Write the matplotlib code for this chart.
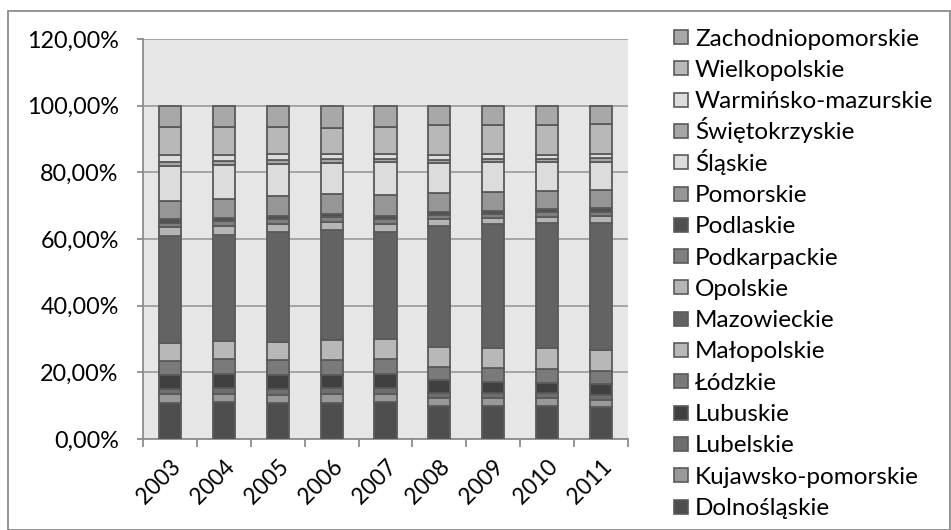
import numpy as np
import matplotlib
matplotlib.use("Agg")
import matplotlib.pyplot as plt
from matplotlib.patches import Rectangle

plt.rcParams['font.family'] = ['Lato', 'DejaVu Sans']

years = ["2003", "2004", "2005", "2006", "2007", "2008", "2009", "2010", "2011"]

# udział procentowy, od dołu słupka
regions = ["Dolnośląskie", "Kujawsko-pomorskie", "Lubelskie", "Lubuskie", "Łódzkie",
           "Małopolskie", "Mazowieckie", "Opolskie", "Podkarpackie", "Podlaskie",
           "Pomorskie", "Śląskie", "Świętokrzyskie", "Warmińsko-mazurskie",
           "Wielkopolskie", "Zachodniopomorskie"]

dolnoslaskie = [10.8, 11.1, 10.8, 10.8, 11.0, 9.8, 9.8, 9.8, 9.6]
kujawsko = [2.6, 2.5, 2.5, 2.6, 2.6, 2.5, 2.5, 2.4, 2.2]
lubelskie = [1.7, 1.8, 1.8, 1.8, 1.8, 1.6, 1.4, 1.5, 1.3]
lubuskie = [4.0, 4.0, 4.0, 4.0, 4.2, 3.7, 3.4, 3.2, 3.3]
lodzkie = [4.4, 4.7, 4.6, 4.5, 4.5, 4.0, 4.2, 4.2, 4.0]
malopolskie = [5.2, 5.3, 5.3, 5.9, 5.9, 6.0, 6.1, 6.2, 6.4]
mazowieckie = [32.2, 31.8, 33.0, 33.0, 32.1, 36.3, 37.0, 37.6, 38.1]
opolskie = [2.6, 2.6, 2.4, 2.4, 2.5, 2.2, 2.0, 1.8, 2.0]
podkarpackie = [1.4, 1.5, 1.5, 1.6, 1.5, 1.2, 1.2, 1.3, 1.3]
podlaskie = [1.0, 0.9, 0.9, 0.9, 0.9, 0.8, 0.9, 0.9, 1.0]
pomorskie = [5.6, 5.7, 6.0, 6.1, 6.2, 5.8, 5.6, 5.4, 5.4]
slaskie = [10.4, 10.2, 9.8, 9.2, 9.9, 8.9, 8.9, 8.9, 8.6]
swietokrzyskie = [1.3, 1.2, 1.1, 1.1, 1.0, 0.9, 1.0, 0.9, 1.0]
warminsko = [2.0, 1.9, 1.7, 1.6, 1.5, 1.4, 1.4, 1.2, 1.4]
wielkopolskie = [8.5, 8.4, 8.2, 7.9, 8.0, 9.0, 8.9, 8.8, 8.8]
zachodnio = [6.3, 6.3, 6.3, 6.5, 6.3, 5.8, 5.6, 5.8, 5.5]

series = [dolnoslaskie, kujawsko, lubelskie, lubuskie, lodzkie, malopolskie,
          mazowieckie, opolskie, podkarpackie, podlaskie, pomorskie, slaskie,
          swietokrzyskie, warminsko, wielkopolskie, zachodnio]

colors = ["#4e4e4e", "#999999", "#6e6e6e", "#404040", "#7a7a7a", "#b8b8b8",
          "#636363", "#b5b5b5", "#7f7f7f", "#4f4f4f", "#969696", "#dcdcdc",
          "#a6a6a6", "#dddddd", "#b8b8b8", "#a8a8a8"]

W, H = 951, 530
fig = plt.figure(figsize=(W/100, H/100), dpi=100)
ax = fig.add_axes([143/W, 1-439/H, (628-143)/W, (439-39)/H])
ax.set_facecolor("#e6e6e6")

x = np.arange(len(years))
bottom = np.zeros(len(years))
for name, vals, c in zip(regions, series, colors):
    v = np.array(vals) / 100.0
    ax.bar(x, v, 0.41, bottom=bottom, color=c, edgecolor="#5a5a5a",
           linewidth=1.3, label=name, zorder=3)
    bottom += v

ax.set_xlim(-0.5, len(years) - 0.5)
ax.set_ylim(0, 1.2)
yt = np.arange(0, 1.21, 0.2)
ax.set_yticks(yt)
ax.set_yticklabels([("%.2f%%" % (t*100)).replace(".", ",") for t in yt], fontsize=16.8)
ax.yaxis.grid(True, color="#a0a0a0", linewidth=1.3, zorder=0)
ax.set_axisbelow(True)

ax.set_xticks(x)
ax.set_xticklabels(years, fontsize=16.3, rotation=45, ha="right", va="top",
                   rotation_mode="anchor")
ax.set_xticks(np.arange(-0.5, len(years)), minor=True)
ax.tick_params(axis="x", which="major", length=0, pad=12)
ax.tick_params(axis="x", which="minor", length=5.5, width=1.3, color="#8c8c8c")
ax.tick_params(axis="y", length=4.5, width=1.3, color="#8c8c8c", pad=13)

for s in ["top", "right"]:
    ax.spines[s].set_visible(False)
for s in ["left", "bottom"]:
    ax.spines[s].set_color("#8c8c8c")
    ax.spines[s].set_linewidth(1.3)

# legenda rysowana ręcznie, żeby zachować równe odstępy
for i, (name, c) in enumerate(zip(regions[::-1], colors[::-1])):
    yc = 37 + i * 31.3
    fig.patches.append(Rectangle((674/W, 1-(yc+7)/H), 14/W, 14/H,
                                 transform=fig.transFigure, facecolor=c,
                                 edgecolor="#5a5a5a", linewidth=1.2))
    fig.text(695/W, 1-(yc+8.5)/H, name, fontsize=17.5, va="baseline", ha="left")

fig.patches.append(Rectangle((8/W, 0.5/H), 942/W, 519/H, transform=fig.transFigure,
                             fill=False, edgecolor="#8c8c8c", linewidth=1.3))

fig.savefig("out.png", dpi=100)
